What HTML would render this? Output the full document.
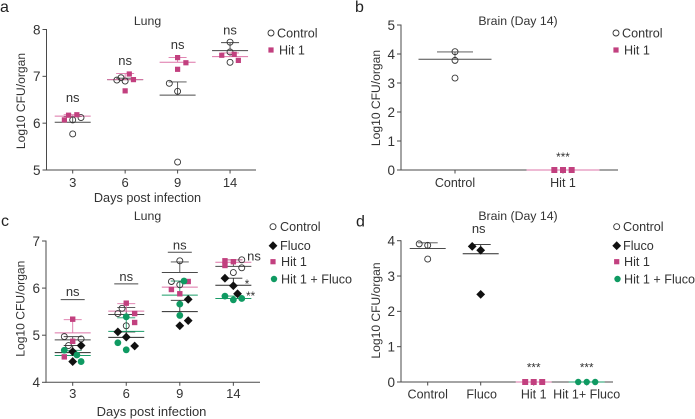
<!DOCTYPE html>
<html lang="en">
<head>
<meta charset="utf-8">
<title>CFU charts</title>
<style>
html,body{margin:0;padding:0;background:#fff;width:695px;height:419px;overflow:hidden}
svg{display:block;filter:blur(0.3px)}
text{font-family:"Liberation Sans",sans-serif;fill:#333}
.lg{font-size:12.6px}
.t{font-size:12.3px}
.pl{font-size:16px;fill:#222}
</style>
</head>
<body>
<svg id="figure" width="695" height="419" viewBox="0 0 695 419" xmlns="http://www.w3.org/2000/svg">
  <text class="pl" x="0" y="12">a</text>
  <text class="pl" x="355" y="12">b</text>
  <text class="pl" x="1" y="226">c</text>
  <text class="pl" x="356" y="226.5">d</text>

  <text class="t" x="147.5" y="25" text-anchor="middle">Lung</text>
  <text class="t" x="518" y="25" text-anchor="middle">Brain (Day 14)</text>
  <text class="t" x="147.5" y="220" text-anchor="middle">Lung</text>
  <text class="t" x="518" y="220" text-anchor="middle">Brain (Day 14)</text>

  <g>
    <circle cx="271" cy="33" r="3" fill="none" stroke="#333" stroke-width="0.9"/>
    <text class="lg" x="277" y="37.5">Control</text>
    <rect x="268.4" y="47.4" width="5.2" height="5.2" fill="#c2407f"/>
    <text class="lg" x="279" y="54.5">Hit 1</text>
  </g>
  <g>
    <circle cx="616" cy="33" r="3" fill="none" stroke="#333" stroke-width="0.9"/>
    <text class="lg" x="622" y="37.5">Control</text>
    <rect x="613.4" y="47.4" width="5.2" height="5.2" fill="#c2407f"/>
    <text class="lg" x="624" y="54.5">Hit 1</text>
  </g>
  <g>
    <circle cx="273" cy="226.7" r="3" fill="none" stroke="#333" stroke-width="0.9"/>
    <text class="lg" x="280" y="231">Control</text>
    <polygon points="273,241.3 277.4,245.7 273,250.1 268.6,245.7" fill="#111"/>
    <text class="lg" x="280" y="250">Fluco</text>
    <rect x="270.4" y="259.1" width="5.2" height="5.2" fill="#c2407f"/>
    <text class="lg" x="281" y="266">Hit 1</text>
    <circle cx="274" cy="279" r="3.2" fill="#0f9a62"/>
    <text class="lg" x="281" y="283.5">Hit 1 + Fluco</text>
  </g>
  <g>
    <circle cx="616.7" cy="226.7" r="3" fill="none" stroke="#333" stroke-width="0.9"/>
    <text class="lg" x="623" y="231">Control</text>
    <polygon points="616.7,241.3 621.1,245.7 616.7,250.1 612.3,245.7" fill="#111"/>
    <text class="lg" x="623" y="250">Fluco</text>
    <rect x="614.1" y="259.1" width="5.2" height="5.2" fill="#c2407f"/>
    <text class="lg" x="624" y="266">Hit 1</text>
    <circle cx="617.5" cy="279" r="3.2" fill="#0f9a62"/>
    <text class="lg" x="624" y="283.5">Hit 1 + Fluco</text>
  </g>
</svg>
<script>
// ---------- Panel a ----------
const aCategories = ['3', '6', '9', '14'];
const aTicks = [5, 6, 7, 8];
const aControlValues = [[6.07, 6.12, 5.77], [6.92, 6.97, 6.9], [6.85, 6.68, 5.17], [7.73, 7.52, 7.3]];
const aControlSlots = [[0, 1, 0], [-1, -0.5, 0], [-1, 0, 0], [0, 0, 0]];
const aControlMeans = [6.02, 6.93, 6.6, 7.55];
const aControlUppers = [6.14, 6.96, 6.88, 7.72];
const aHitValues = [[6.07, 6.17, 6.18], [7.05, 6.93, 6.69], [7.4, 7.29, 7.15], [7.45, 7.47, 7.34]];
const aHitSlots = [[-1, -0.5, 0.5], [0.5, 1, 0], [0, 1, 0], [-1, 0.5, 1]];
const aHitMeans = [6.15, 6.93, 7.3, 7.42];
const aHitUppers = [6.18, 7.06, 7.4, 7.5];
const aLabelTexts = ['ns', 'ns', 'ns', 'ns'];
const aLabelValues = [6.456, 7.24, 7.58, 7.89];

// ---------- Panel b ----------
const bCategories = ['Control', 'Hit 1'];
const bTicks = [0, 1, 2, 3, 4, 5];
const bControlValues = [[4.08, 3.78, 3.17], []];
const bControlSlots = [[0, 0, 0], []];
const bControlMeans = [3.82, null];
const bControlUppers = [4.07, null];
const bHitValues = [[], [0, 0, 0]];
const bHitSlots = [[], [-1, 0, 1]];
const bHitMeans = [null, 0];
const bHitUppers = [null, 0];
const bLabelTexts = ['', '***'];
const bLabelValues = [0, 0.31];

// ---------- Panel c ----------
const cCategories = ['3', '6', '9', '14'];
const cTicks = [4, 5, 6, 7];
const cControlValues = [[4.97, 4.92, 4.78], [5.46, 5.57, 5.2], [6.58, 6.14, 6.07], [6.6, 6.43, 6.33]];
const cControlSlots = [[-1, 1, -0.5], [-1, -0.5, 0], [0, -1, 0], [1, 1, 0]];
const cControlMeans = [4.9, 5.44, 6.33, 6.46];
const cControlUppers = [4.97, 5.59, 6.555, 6.6];
const cFlucoValues = [[4.78, 4.65, 4.44], [5.07, 4.96, 4.77], [5.76, 5.31, 5.2], [6.21, 6.05, 5.88]];
const cFlucoSlots = [[1, 0, 0], [-1, 0, 1], [1, 1, 0], [-1, 0, 0.5]];
const cFlucoMeans = [4.63, 4.955, 5.5, 6.06];
const cFlucoUppers = [4.78, 5.07, 5.74, 6.21];
const cHitValues = [[5.34, 4.87, 4.54], [5.68, 5.46, 5.27], [6.14, 5.97, 5.88], [6.58, 6.56, 6.48]];
const cHitSlots = [[0, 0, -1], [0, 1, 1], [1, -1, 0], [-1, 0, -1]];
const cHitMeans = [5.05, 5.51, 6.02, 6.55];
const cHitUppers = [5.33, 5.67, 6.15, 6.6];
const cComboValues = [[4.68, 4.58, 4.44], [4.84, 5.39, 4.69], [6.15, 5.66, 5.42], [5.83, 5.75, 5.78]];
const cComboSlots = [[-1, 0.5, 1], [-1, 0, 0], [0.5, 0, 0], [-1, 0, 1]];
const cComboMeans = [4.57, 5.08, 5.85, 5.78];
const cComboUppers = [4.68, 5.37, 6.15, 5.83];
const cBracketValues = [5.755, 6.09, 6.76];
const cBracketLabels = ['ns', 'ns', 'ns'];
const cBracketLabelValues = [5.82, 6.14, 6.81];

// ---------- Panel d ----------
const dCategories = ['Control', 'Fluco', 'Hit 1', 'Hit 1+ Fluco'];
const dTicks = [0, 1, 2, 3, 4];
const dControlValues = [[3.91, 3.87, 3.48], [], [], []];
const dControlSlots = [[-1, 0, 0], [], [], []];
const dControlMeans = [3.78, null, null, null];
const dControlUppers = [3.94, null, null, null];
const dFlucoValues = [[], [3.84, 3.73, 2.48], [], []];
const dFlucoSlots = [[], [-1, 0, 0], [], []];
const dFlucoMeans = [null, 3.63, null, null];
const dFlucoUppers = [null, 3.89, null, null];
const dHitValues = [[], [], [0, 0, 0], []];
const dHitSlots = [[], [], [-1, 0, 1], []];
const dHitMeans = [null, null, 0, null];
const dHitUppers = [null, null, 0, null];
const dComboValues = [[], [], [], [0, 0, 0]];
const dComboSlots = [[], [], [], [-1, 0, 1]];
const dComboMeans = [null, null, null, 0];
const dComboUppers = [null, null, null, 0];
const dLabelTexts = ['', 'ns', '***', '***'];
const dLabelValues = [0, 4.22, 0.3, 0.3];

const NS = 'http://www.w3.org/2000/svg';
const root = document.getElementById('figure');
const AXIS = '#4a4a4a';
const STYLE = {
  control: { line: '#4a4a4a', kind: 'open' },
  fluco: { line: '#2a2a2a', kind: 'diamond' },
  hit: { line: '#dd75a8', kind: 'square' },
  combo: { line: '#1a9c68', kind: 'disc' }
};

function line(parent, x1, y1, x2, y2, color, width) {
  const el = document.createElementNS(NS, 'line');
  el.setAttribute('x1', x1);
  el.setAttribute('y1', y1);
  el.setAttribute('x2', x2);
  el.setAttribute('y2', y2);
  el.setAttribute('stroke', color);
  el.setAttribute('stroke-width', width);
  parent.appendChild(el);
  return el;
}

function label(parent, x, y, str, size, anchor) {
  const el = document.createElementNS(NS, 'text');
  el.setAttribute('x', x);
  el.setAttribute('y', y);
  el.setAttribute('font-size', size);
  el.setAttribute('text-anchor', anchor);
  el.textContent = str;
  parent.appendChild(el);
  return el;
}

function marker(parent, kind, cx, cy, size) {
  let el;
  if (kind === 'open' || kind === 'disc') {
    el = document.createElementNS(NS, 'circle');
    el.setAttribute('cx', cx);
    el.setAttribute('cy', cy);
    if (kind === 'open') {
      el.setAttribute('r', 3);
      el.setAttribute('fill', 'none');
      el.setAttribute('stroke', '#333');
      el.setAttribute('stroke-width', 0.9);
    } else {
      el.setAttribute('r', size.disc);
      el.setAttribute('fill', '#0f9a62');
    }
  } else if (kind === 'square') {
    el = document.createElementNS(NS, 'rect');
    el.setAttribute('x', cx - size.square / 2);
    el.setAttribute('y', cy - size.square / 2);
    el.setAttribute('width', size.square);
    el.setAttribute('height', size.square);
    el.setAttribute('fill', '#c2407f');
  } else {
    el = document.createElementNS(NS, 'polygon');
    el.setAttribute('points', [cx, cy - 4.4, cx + 4.4, cy, cx, cy + 4.4, cx - 4.4, cy].join(','));
    el.setAttribute('fill', '#111');
  }
  parent.appendChild(el);
  return el;
}

function drawPanel(p) {
  const g = document.createElementNS(NS, 'g');
  
  
  root.appendChild(g);

  const yScale = function (v) {
    return p.yBottom - (v - p.vMin) / (p.vMax - p.vMin) * (p.yBottom - p.yTop);
  };
  const xScale = function (i) {
    return p.xFirst + i * p.xStep;
  };
  p.yScale = yScale;
  p.xScale = xScale;

  const yAxis = line(g, p.x0, p.yTop - 0.5, p.x0, p.yBottom + 0.5, AXIS, 1);
  
  
  const xAxis = line(g, p.x0, p.yBottom, p.x1, p.yBottom, AXIS, 1);
  
  

  p.ticks.forEach(function (t) {
    const tick = line(g, p.x0 - 4, yScale(t), p.x0, yScale(t), AXIS, 1);
    
    
    const tl = label(g, p.x0 - 6, yScale(t) + 4.8, String(t), 13.5, 'end');
    
    
  });
  p.categories.forEach(function (c, i) {
    const tick = line(g, xScale(i), p.yBottom, xScale(i), p.yBottom + 3.5, AXIS, 1);
    
    
    const tl = label(g, xScale(i) + (p.labelShift ? p.labelShift[i] : 0), p.tickBase, c, p.catSize, 'middle');
    
    
  });

  const yTitle = label(g, 0, 0, 'Log10 CFU/organ', 12.1, 'middle');
  yTitle.setAttribute('transform', 'translate(' + p.yTitleX + ',' + p.yTitleY + ') rotate(-90)');
  
  
  if (p.xTitle) {
    const xTitle = label(g, p.xTitleX, p.xTitleY, p.xTitle, p.xTitleSize, 'middle');
    
    
  }

  p.series.forEach(function (s) {
    const st = STYLE[s.key];
    p.categories.forEach(function (c, i) {
      if (s.means[i] !== null) {
        const mean = line(g, xScale(i) - p.meanHalf, yScale(s.means[i]), xScale(i) + p.meanHalf, yScale(s.means[i]), st.line, 1);
        
        
        if (s.uppers[i] !== s.means[i]) {
          const stem = line(g, xScale(i), yScale(s.means[i]), xScale(i), yScale(s.uppers[i]), st.line, 0.9);
          
          
          const cap = line(g, xScale(i) - p.capHalf, yScale(s.uppers[i]), xScale(i) + p.capHalf, yScale(s.uppers[i]), st.line, 0.9);
          
          
        }
      }
    });
  });
  p.series.forEach(function (s) {
    const st = STYLE[s.key];
    p.categories.forEach(function (c, i) {
      s.values[i].forEach(function (v, j) {
        const m = marker(g, st.kind, xScale(i) + s.slots[i][j] * p.jitter, yScale(v), p.size);
        
        
      });
    });
  });
  return g;
}

function sizes(square, disc) {
  return { square: square, disc: disc };
}

const gA = drawPanel({
  id: 'a', x0: 46.5, x1: 256, yTop: 29.5, yBottom: 170, vMin: 5, vMax: 8,
  xFirst: 72.7, xStep: 52.45, jitter: 8.3, meanHalf: 18, capHalf: 9,
  size: sizes(5.2, 3.3), categories: aCategories, ticks: aTicks, catSize: 13,
  tickBase: 187, yTitleX: 25, yTitleY: 101,
  xTitle: 'Days post infection', xTitleX: 147.5, xTitleY: 202, xTitleSize: 12.7,
  series: [
    { key: 'control', values: aControlValues, slots: aControlSlots, means: aControlMeans, uppers: aControlUppers },
    { key: 'hit', values: aHitValues, slots: aHitSlots, means: aHitMeans, uppers: aHitUppers }
  ]
});
const yA = function (v) { return 170 - (v - 5) / 3 * 140.5; };
aLabelTexts.forEach(function (t, i) {
  const el = label(gA, 72.7 + i * 52.45, yA(aLabelValues[i]), t, 13, 'middle');
  
  
});

const gB = drawPanel({
  id: 'b', x0: 401, x1: 618, yTop: 25, yBottom: 170, vMin: 0, vMax: 5,
  xFirst: 455, xStep: 108, jitter: 8.67, meanHalf: 36.5, capHalf: 18,
  size: sizes(6, 3.3), categories: bCategories, ticks: bTicks, catSize: 12.5,
  tickBase: 187, yTitleX: 380, yTitleY: 98,
  series: [
    { key: 'control', values: bControlValues, slots: bControlSlots, means: bControlMeans, uppers: bControlUppers },
    { key: 'hit', values: bHitValues, slots: bHitSlots, means: bHitMeans, uppers: bHitUppers }
  ]
});
const yB = function (v) { return 170 - v / 5 * 145; };
bLabelTexts.forEach(function (t, i) {
  const el = label(gB, 455 + i * 108, yB(bLabelValues[i]), t, 11.7, 'middle');
  
  
});

const gC = drawPanel({
  id: 'c', x0: 46, x1: 260, yTop: 241, yBottom: 382.3, vMin: 4, vMax: 7,
  xFirst: 72.7, xStep: 53.55, jitter: 8.4, meanHalf: 18, capHalf: 9,
  size: sizes(5.4, 3.4), categories: cCategories, ticks: cTicks, catSize: 13,
  tickBase: 398, yTitleX: 24.5, yTitleY: 308.7,
  xTitle: 'Days post infection', xTitleX: 151.5, xTitleY: 416, xTitleSize: 13,
  series: [
    { key: 'control', values: cControlValues, slots: cControlSlots, means: cControlMeans, uppers: cControlUppers },
    { key: 'fluco', values: cFlucoValues, slots: cFlucoSlots, means: cFlucoMeans, uppers: cFlucoUppers },
    { key: 'hit', values: cHitValues, slots: cHitSlots, means: cHitMeans, uppers: cHitUppers },
    { key: 'combo', values: cComboValues, slots: cComboSlots, means: cComboMeans, uppers: cComboUppers }
  ]
});
const yC = function (v) { return 382.3 - (v - 4) / 3 * 141.3; };
cBracketValues.forEach(function (v, i) {
  const cx = 72.7 + i * 53.55;
  const br = line(gC, cx - 12, yC(v), cx + 12, yC(v), '#4a4a4a', 1);
  
  
  const el = label(gC, cx, yC(cBracketLabelValues[i]) - 0.5, cBracketLabels[i], 13, 'middle');
  
  
});
const ns14 = label(gC, 254, 260.5, 'ns', 13, 'middle');


const star1 = label(gC, 247, 288, '*', 11.6, 'middle');


const star2 = label(gC, 250.7, 300, '**', 11.6, 'middle');



const gD = drawPanel({
  id: 'd', x0: 401, x1: 613, yTop: 240.7, yBottom: 382, vMin: 0, vMax: 4,
  xFirst: 427.7, xStep: 53, jitter: 8.5, meanHalf: 18, capHalf: 10,
  size: sizes(6, 3.2), categories: dCategories, ticks: dTicks, catSize: 12.5,
  tickBase: 398.5, yTitleX: 380, yTitleY: 310.5, labelShift: [0, 1, 0, 0],
  series: [
    { key: 'control', values: dControlValues, slots: dControlSlots, means: dControlMeans, uppers: dControlUppers },
    { key: 'fluco', values: dFlucoValues, slots: dFlucoSlots, means: dFlucoMeans, uppers: dFlucoUppers },
    { key: 'hit', values: dHitValues, slots: dHitSlots, means: dHitMeans, uppers: dHitUppers },
    { key: 'combo', values: dComboValues, slots: dComboSlots, means: dComboMeans, uppers: dComboUppers }
  ]
});
const yD = function (v) { return 382 - v / 4 * 141.3; };
dLabelTexts.forEach(function (t, i) {
  const big = t === 'ns';
  const el = label(gD, 427.7 + i * 53 - (big ? 2 : 0), yD(dLabelValues[i]), t, big ? 13 : 11.7, 'middle');
  
  
});
</script>
</body>
</html>
